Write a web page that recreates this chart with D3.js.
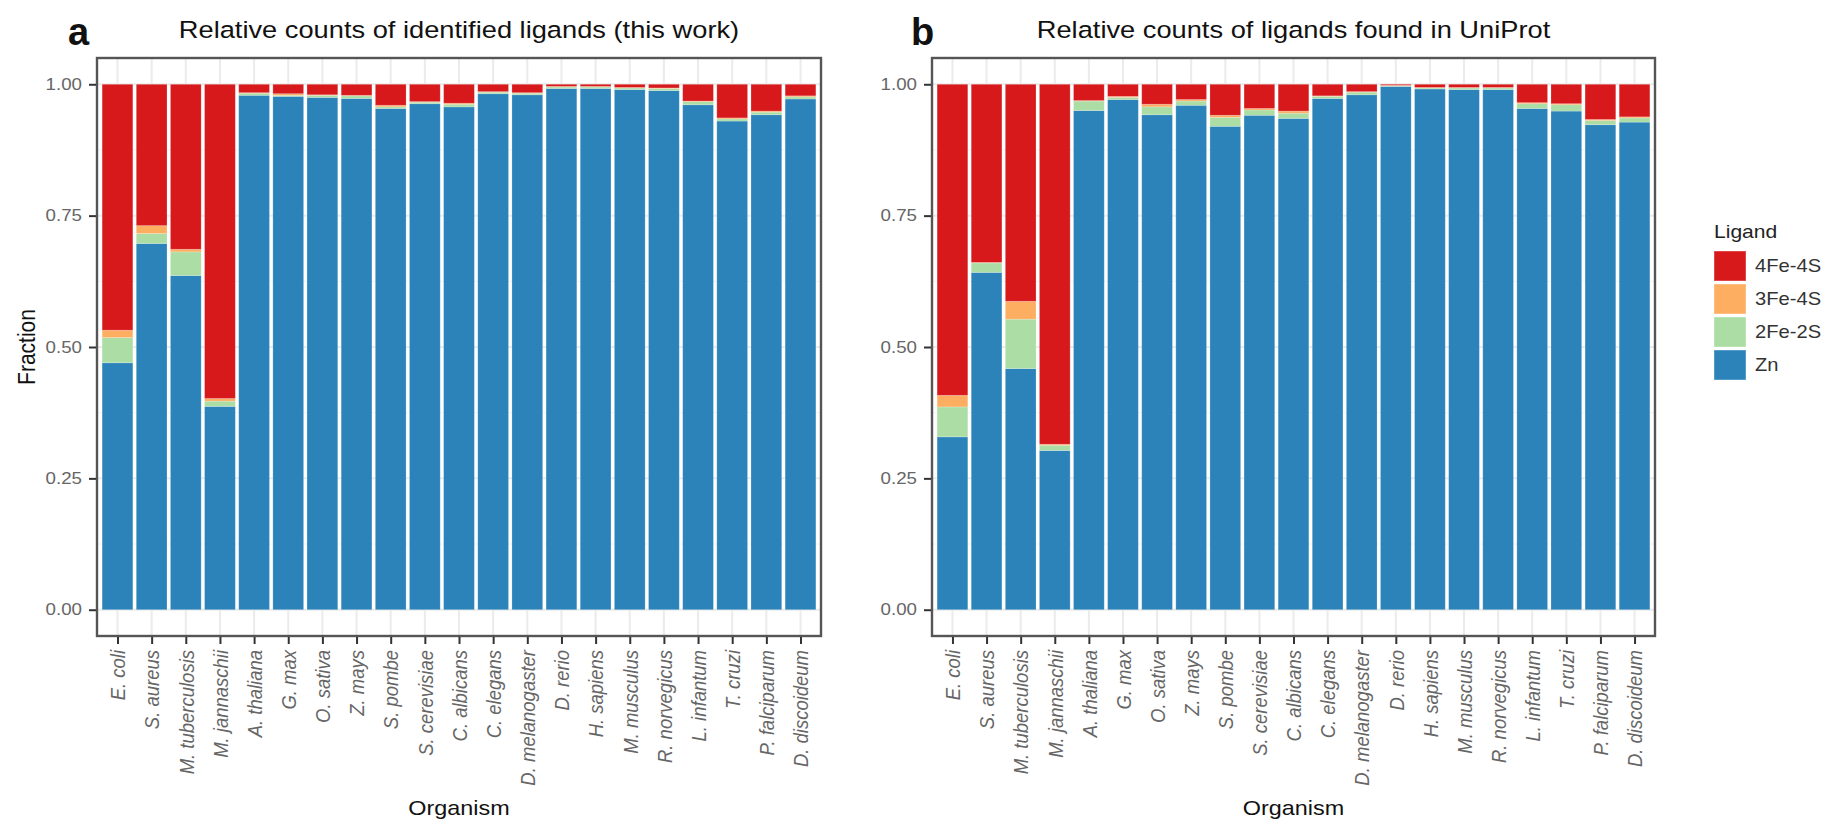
<!DOCTYPE html>
<html>
<head>
<meta charset="utf-8">
<script src="https://cdn.jsdelivr.net/npm/d3@7"></script>
<style>
  html, body { margin: 0; padding: 0; background: #fff; }
  svg { display: block; font-family: "Liberation Sans", Arial, sans-serif; }
</style>
</head>
<body>
<svg id="chart" width="1826" height="830"></svg>
<script>
// ---------------- data ----------------
const organisms = ["E. coli", "S. aureus", "M. tuberculosis", "M. jannaschii", "A. thaliana", "G. max",
  "O. sativa", "Z. mays", "S. pombe", "S. cerevisiae", "C. albicans", "C. elegans", "D. melanogaster",
  "D. rerio", "H. sapiens", "M. musculus", "R. norvegicus", "L. infantum", "T. cruzi", "P. falciparum",
  "D. discoideum"];

// stack order bottom -> top
const ligands = ["Zn", "2Fe-2S", "3Fe-4S", "4Fe-4S"];
// legend order top -> bottom
const legendOrder = ["4Fe-4S", "3Fe-4S", "2Fe-2S", "Zn"];
const ligandColors = ["#2B83BA", "#ABDDA4", "#FDAE61", "#D7191C"];

// Panel a: this work
const workZn   = [0.470, 0.697, 0.636, 0.387, 0.979, 0.977, 0.975, 0.973, 0.954, 0.963, 0.957, 0.982, 0.980, 0.992, 0.992, 0.990, 0.988, 0.961, 0.930, 0.942, 0.972];
const work2Fe  = [0.048, 0.019, 0.045, 0.010, 0.004, 0.002, 0.004, 0.005, 0.003, 0.003, 0.005, 0.003, 0.003, 0.003, 0.003, 0.003, 0.004, 0.006, 0.004, 0.005, 0.004];
const work3Fe  = [0.014, 0.015, 0.005, 0.005, 0.001, 0.003, 0.001, 0.001, 0.003, 0.001, 0.002, 0.001, 0.001, 0.001, 0.001, 0.001, 0.001, 0.001, 0.002, 0.002, 0.002];
const work4Fe  = [0.468, 0.269, 0.314, 0.598, 0.016, 0.018, 0.020, 0.021, 0.040, 0.033, 0.036, 0.014, 0.016, 0.004, 0.004, 0.006, 0.007, 0.032, 0.064, 0.051, 0.022];

// Panel b: UniProt
const uniZn    = [0.329, 0.642, 0.459, 0.303, 0.950, 0.971, 0.942, 0.960, 0.920, 0.941, 0.935, 0.973, 0.980, 0.996, 0.991, 0.990, 0.990, 0.954, 0.949, 0.923, 0.928];
const uni2Fe   = [0.057, 0.018, 0.094, 0.010, 0.018, 0.004, 0.015, 0.008, 0.017, 0.010, 0.010, 0.004, 0.005, 0.001, 0.002, 0.003, 0.003, 0.009, 0.012, 0.008, 0.008];
const uni3Fe   = [0.022, 0.001, 0.034, 0.002, 0.001, 0.002, 0.005, 0.003, 0.004, 0.003, 0.004, 0.001, 0.001, 0.001, 0.001, 0.001, 0.001, 0.002, 0.002, 0.002, 0.002];
const uni4Fe   = [0.592, 0.339, 0.413, 0.685, 0.031, 0.023, 0.038, 0.029, 0.059, 0.046, 0.051, 0.022, 0.014, 0.002, 0.006, 0.006, 0.006, 0.035, 0.037, 0.067, 0.062];

const yTicks = [0, 0.25, 0.5, 0.75, 1.0];
const yTickLabels = ["0.00", "0.25", "0.50", "0.75", "1.00"];
const yMinor = [0.125, 0.375, 0.625, 0.875];

const panelTitles = ["Relative counts of identified ligands (this work)", "Relative counts of ligands found in UniProt"];
const panelTags = ["a", "b"];
// ---------------- drawing ----------------
const svg = d3.select("#chart");
const color = d3.scaleOrdinal().domain(ligands).range(ligandColors);
const SX = 1.17; // horizontal widening of glyphs seen in the reference

function rows(zn, fe2, fe3, fe4) {
  return organisms.map((o, i) => ({ org: o, "Zn": zn[i], "2Fe-2S": fe2[i], "3Fe-4S": fe3[i], "4Fe-4S": fe4[i] }));
}

function wideText(sel, x, y, size, txt, anchor) {
  return sel.append("text")
    .attr("transform", `translate(${x},${y}) scale(${SX},1)`)
    .attr("text-anchor", anchor || "start")
    .attr("font-size", size).text(txt);
}

const panels = [
  { data: rows(workZn, work2Fe, work3Fe, work4Fe), left: 97, right: 821, tagX: 68, yTitle: true },
  { data: rows(uniZn, uni2Fe, uni3Fe, uni4Fe), left: 932, right: 1655, tagX: 911, yTitle: false }
];
const plotTop = 58, plotBottom = 636;

panels.forEach((p, pi) => {
  const g = svg.append("g");
  const x = d3.scalePoint().domain(organisms).range([p.left, p.right]).padding(0.6);
  const bw = x.step() * 0.9;
  const y = d3.scaleLinear().domain([-0.05, 1.05]).range([plotBottom, plotTop]);

  // grid
  const grid = g.append("g");
  grid.selectAll("line.vg").data(organisms).join("line")
    .attr("x1", d => x(d)).attr("x2", d => x(d)).attr("y1", plotTop).attr("y2", plotBottom)
    .attr("stroke", "#EBEBEB").attr("stroke-width", 2);
  grid.selectAll("line.hm").data(yMinor).join("line")
    .attr("x1", p.left).attr("x2", p.right).attr("y1", d => y(d)).attr("y2", d => y(d))
    .attr("stroke", "#F2F2F2").attr("stroke-width", 1);
  grid.selectAll("line.hM").data(yTicks).join("line")
    .attr("x1", p.left).attr("x2", p.right).attr("y1", d => y(d)).attr("y2", d => y(d))
    .attr("stroke", "#EBEBEB").attr("stroke-width", 2);

  // stacked bars
  const series = d3.stack().keys(ligands).offset(d3.stackOffsetExpand)(p.data);
  g.append("g").selectAll("g").data(series).join("g")
    .attr("fill", d => color(d.key))
    .selectAll("rect").data(d => d).join("rect")
    .attr("x", d => x(d.data.org) - bw / 2)
    .attr("width", bw)
    .attr("y", d => y(d[1]))
    .attr("height", d => Math.max(0, y(d[0]) - y(d[1])))
    .attr("stroke", "rgba(255,255,255,0.25)").attr("stroke-width", 0.8);

  // panel border
  g.append("rect").attr("x", p.left).attr("y", plotTop)
    .attr("width", p.right - p.left).attr("height", plotBottom - plotTop)
    .attr("fill", "none").attr("stroke", "#555").attr("stroke-width", 2.4);

  // y axis
  const yAxis = d3.axisLeft(y).tickValues(yTicks).tickFormat((d, i) => yTickLabels[i]).tickSize(7).tickPadding(0);
  const ya = g.append("g").attr("transform", `translate(${p.left - 1},0)`).call(yAxis);
  ya.select(".domain").remove();
  ya.selectAll(".tick line").attr("stroke", "#333").attr("stroke-width", 2);
  ya.selectAll(".tick text").attr("fill", "#666").attr("font-size", 16)
    .attr("font-family", "'Liberation Sans', Arial, sans-serif")
    .attr("x", -14 / SX)
    .attr("transform", `scale(${SX},1)`);

  // x axis
  const xAxis = d3.axisBottom(x).tickSize(7).tickPadding(4);
  const xa = g.append("g").attr("transform", `translate(0,${plotBottom + 1})`).call(xAxis);
  xa.select(".domain").remove();
  xa.selectAll(".tick line").attr("stroke", "#333").attr("stroke-width", 2);
  xa.selectAll(".tick text")
    .attr("fill", "#666").attr("font-size", 18.5).attr("font-style", "italic")
    .attr("font-family", "'Liberation Sans', Arial, sans-serif")
    .attr("transform", "rotate(-90) scale(1,1.12)")
    .attr("text-anchor", "end")
    .attr("x", -13).attr("y", 0).attr("dy", "0.35em");

  // x title
  wideText(g, (p.left + p.right) / 2, 815, 20, "Organism", "middle").attr("fill", "#111");

  if (p.yTitle) {
    g.append("text").attr("transform", `translate(35,${(plotTop + plotBottom) / 2}) rotate(-90) scale(1,1.1)`)
      .attr("text-anchor", "middle").attr("font-size", 21).attr("fill", "#111").text("Fraction");
  }

  // panel title
  wideText(g, (p.left + p.right) / 2, 38, 23.3, panelTitles[pi], "middle").attr("fill", "#111");

  // tag
  g.append("text").attr("x", p.tagX).attr("y", 45)
    .attr("font-size", 38).attr("font-weight", "bold").attr("fill", "#111").text(panelTags[pi]);
});

// legend
const lg = svg.append("g").attr("transform", "translate(1714,0)");
wideText(lg, 0, 238, 18, "Ligand").attr("fill", "#222");
const items = lg.selectAll("g.item").data(legendOrder).join("g")
  .attr("transform", (d, i) => `translate(0,${251 + i * 33})`);
items.append("rect").attr("width", 32).attr("height", 30).attr("fill", d => color(d))
  .attr("stroke", "rgba(255,255,255,0.4)").attr("stroke-width", 1);
items.append("text").attr("transform", `translate(41,15) scale(1.12,1)`).attr("dy", "0.35em")
  .attr("font-size", 18).attr("fill", "#333").text(d => d);
</script>
</body>
</html>
